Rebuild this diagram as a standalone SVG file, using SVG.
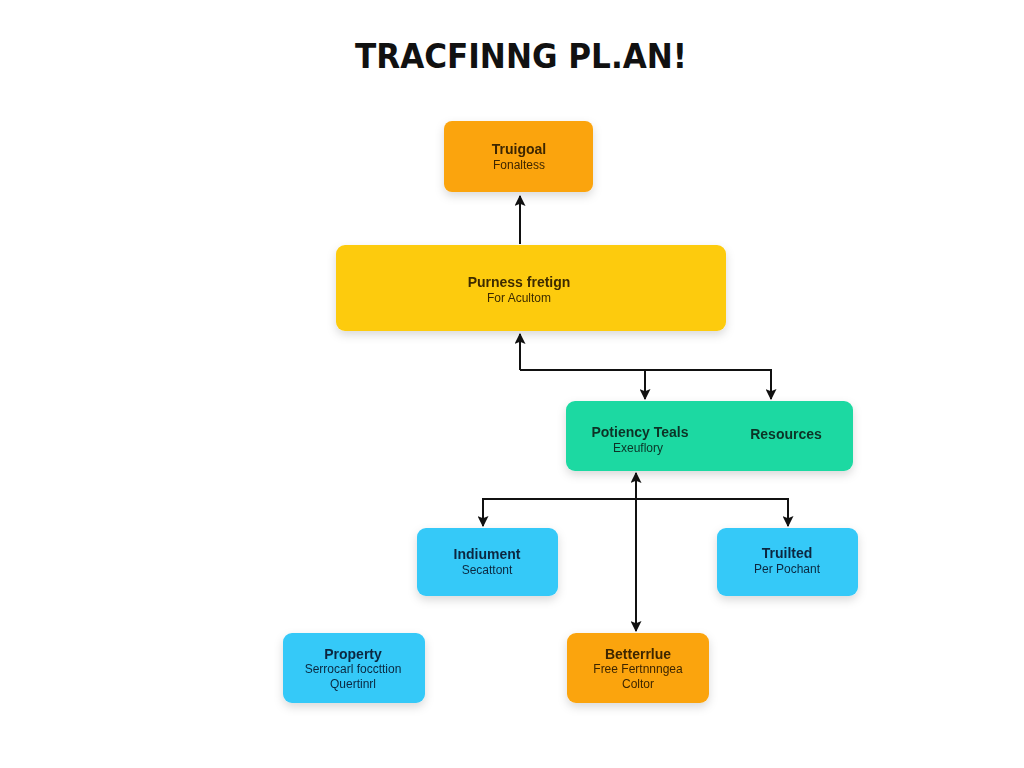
<svg xmlns="http://www.w3.org/2000/svg" width="1024" height="768" viewBox="0 0 1024 768">
<defs>
<filter id="sh" x="-20%" y="-20%" width="140%" height="160%"><feDropShadow dx="0" dy="4" stdDeviation="5" flood-color="#000" flood-opacity="0.15"/></filter>
<marker id="ah" viewBox="0 0 10 10" refX="9" refY="5" markerWidth="11" markerHeight="11" orient="auto-start-reverse" markerUnits="userSpaceOnUse"><path d="M0,0 L10,5 L0,10 L2,5 z" fill="#111"/></marker>
<style>
.t{font-family:"Liberation Sans",Arial,sans-serif;text-anchor:middle}
.h{font-size:14px;font-weight:bold}
.s{font-size:12px}
.or{fill:#FBA40E}
.ye{fill:#FDCB0D}
.te{fill:#1ED9A2}
.bl{fill:#35C9F8}
.to{fill:#3d2603}
.ty{fill:#3d2c03}
.tt{fill:#0a3326}
.tb{fill:#0a2840}
.c{fill:none;stroke:#111;stroke-width:2}
.title{font-family:"DejaVu Sans",Verdana,sans-serif;font-weight:bold;font-size:34px;text-anchor:middle;fill:#111}
</style>
</defs>
<rect width="1024" height="768" fill="#fff"/>
<text x="521" y="68" class="title" textLength="332" lengthAdjust="spacingAndGlyphs">TRACFINNG PL.AN!</text>
<g id="connectors">
<path class="c" d="M520,244 V196" marker-end="url(#ah)"/>
<path class="c" d="M520,370 V334" marker-end="url(#ah)"/>
<path class="c" d="M520,370 H771 V399" marker-end="url(#ah)"/>
<path class="c" d="M645,370 V399" marker-end="url(#ah)"/>
<path class="c" d="M636,631 V473" marker-start="url(#ah)" marker-end="url(#ah)"/>
<path class="c" d="M483,526 V499 H788 V526" marker-start="url(#ah)" marker-end="url(#ah)"/>
</g>
<g id="n-truigoal" filter="url(#sh)">
<rect x="444" y="121" width="149" height="71" rx="8" class="or"/>
<text x="519" y="154" class="t h to">Truigoal</text>
<text x="519" y="169" class="t s to">Fonaltess</text>
</g>
<g id="n-purness" filter="url(#sh)">
<rect x="336" y="245" width="390" height="86" rx="9" class="ye"/>
<text x="519" y="287" class="t h ty">Purness fretign</text>
<text x="519" y="302" class="t s ty">For Acultom</text>
</g>
<g id="n-potiency" filter="url(#sh)">
<rect x="566" y="401" width="287" height="70" rx="9" class="te"/>
<text x="640" y="437" class="t h tt">Potiency Teals</text>
<text x="638" y="452" class="t s tt">Exeuflory</text>
<text x="786" y="439" class="t h tt">Resources</text>
</g>
<g id="n-indiument" filter="url(#sh)">
<rect x="417" y="528" width="141" height="68" rx="9" class="bl"/>
<text x="487" y="559" class="t h tb">Indiument</text>
<text x="487" y="574" class="t s tb">Secattont</text>
</g>
<g id="n-truilted" filter="url(#sh)">
<rect x="717" y="528" width="141" height="68" rx="9" class="bl"/>
<text x="787" y="558" class="t h tb">Truilted</text>
<text x="787" y="573" class="t s tb">Per Pochant</text>
</g>
<g id="n-property" filter="url(#sh)">
<rect x="283" y="633" width="142" height="70" rx="9" class="bl"/>
<text x="353" y="659" class="t h tb">Property</text>
<text x="353" y="673" class="t s tb">Serrocarl foccttion</text>
<text x="353" y="688" class="t s tb">Quertinrl</text>
</g>
<g id="n-betterrlue" filter="url(#sh)">
<rect x="567" y="633" width="142" height="70" rx="9" class="or"/>
<text x="638" y="659" class="t h to">Betterrlue</text>
<text x="638" y="673" class="t s to">Free Fertnnngea</text>
<text x="638" y="688" class="t s to">Coltor</text>
</g>
</svg>
